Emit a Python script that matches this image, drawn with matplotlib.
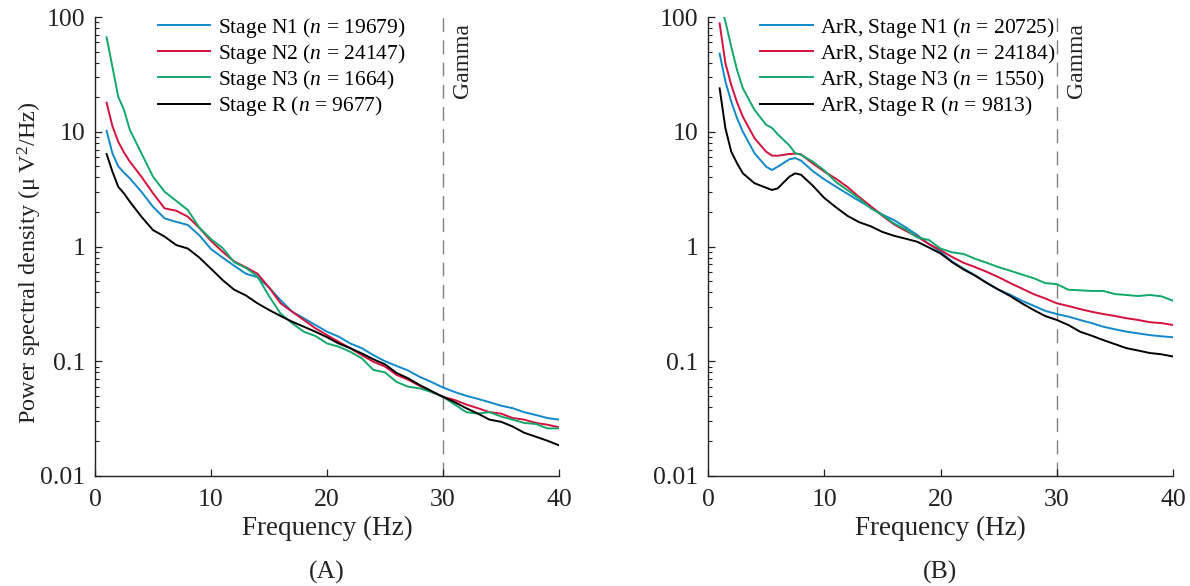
import matplotlib
matplotlib.use("Agg")
import matplotlib.pyplot as plt
from matplotlib.ticker import FixedLocator, NullFormatter
import matplotlib.transforms as mtransforms

plt.rcParams['font.family'] = ['Liberation Serif', 'DejaVu Serif']
plt.rcParams['mathtext.fontset'] = 'custom'
plt.rcParams['mathtext.rm'] = 'Liberation Serif'
plt.rcParams['mathtext.it'] = 'Liberation Serif:italic'

# ---------------- data ----------------
freq_A = [1, 1.5, 2, 2.5, 3, 4, 5, 6, 7, 8, 9, 10, 11, 12, 13, 14, 15, 16, 17, 18, 19, 20,
          21, 22, 23, 24, 25, 26, 27, 28, 29, 30, 31, 32, 33, 34, 35, 36, 37, 38, 39, 40]
n1_A = [10.2, 6.5, 5.0, 4.4, 3.93, 3.0, 2.22, 1.76, 1.64, 1.54, 1.25, 0.95, 0.80, 0.68, 0.58,
        0.54, 0.44, 0.34, 0.27, 0.237, 0.207, 0.181, 0.164, 0.143, 0.130, 0.113, 0.100, 0.091,
        0.083, 0.073, 0.066, 0.059, 0.054, 0.050, 0.047, 0.044, 0.041, 0.039, 0.036, 0.034,
        0.032, 0.031]
n2_A = [17.9, 11.2, 8.2, 6.6, 5.5, 4.06, 2.91, 2.15, 2.05, 1.82, 1.45, 1.12, 0.90, 0.74, 0.66,
        0.58, 0.44, 0.32, 0.27, 0.229, 0.194, 0.169, 0.148, 0.130, 0.113, 0.099, 0.090, 0.076,
        0.069, 0.061, 0.054, 0.049, 0.046, 0.042, 0.039, 0.036, 0.035, 0.032, 0.031, 0.029,
        0.028, 0.0266]
n3_A = [66.5, 36.9, 20.2, 15.5, 10.4, 6.5, 4.06, 3.0, 2.5, 2.08, 1.46, 1.16, 0.97, 0.73, 0.65,
        0.55, 0.37, 0.26, 0.214, 0.181, 0.166, 0.143, 0.134, 0.121, 0.106, 0.084, 0.080, 0.066,
        0.060, 0.058, 0.054, 0.049, 0.042, 0.036, 0.035, 0.036, 0.033, 0.031, 0.029, 0.0284,
        0.026, 0.026]
r_A = [6.4, 4.5, 3.32, 2.9, 2.46, 1.82, 1.39, 1.22, 1.03, 0.96, 0.80, 0.64, 0.51, 0.42, 0.375,
       0.32, 0.28, 0.248, 0.221, 0.20, 0.181, 0.162, 0.143, 0.130, 0.117, 0.104, 0.094, 0.079,
       0.071, 0.062, 0.055, 0.049, 0.044, 0.039, 0.035, 0.031, 0.0297, 0.027, 0.0238, 0.022,
       0.0203, 0.0185]

freq_B = [1, 1.5, 2, 2.5, 3, 4, 5, 5.5, 6, 7, 7.5, 8, 9, 10, 11, 12, 13, 14, 15, 16, 17, 18,
          19, 20, 21, 22, 23, 24, 25, 26, 27, 28, 29, 30, 31, 32, 33, 34, 35, 36, 37, 38, 39, 40]
n1_B = [48, 27.3, 18.3, 13.1, 10.0, 6.5, 4.96, 4.64, 4.96, 5.75, 5.9, 5.6, 4.55, 3.85, 3.32,
        2.88, 2.50, 2.18, 1.9, 1.70, 1.47, 1.26, 1.05, 0.90, 0.74, 0.64, 0.56, 0.48, 0.42,
        0.38, 0.337, 0.305, 0.275, 0.258, 0.245, 0.229, 0.215, 0.20, 0.19, 0.181, 0.175,
        0.169, 0.165, 0.162]
n2_B = [88, 39.5, 25.6, 18.0, 13.5, 8.8, 6.7, 6.2, 6.18, 6.4, 6.45, 6.35, 5.3, 4.5, 3.9, 3.3,
        2.7, 2.25, 1.85, 1.56, 1.37, 1.22, 1.05, 0.93, 0.81, 0.72, 0.66, 0.60, 0.54, 0.48,
        0.43, 0.385, 0.353, 0.32, 0.303, 0.285, 0.27, 0.258, 0.248, 0.237, 0.229, 0.219,
        0.215, 0.207]
n3_B = [140, 91, 55, 34.5, 23.9, 15.5, 11.5, 10.8, 9.5, 7.6, 6.5, 6.3, 5.5, 4.6, 3.65, 3.1,
        2.62, 2.15, 1.88, 1.59, 1.41, 1.20, 1.14, 0.96, 0.89, 0.86, 0.78, 0.72, 0.66, 0.615,
        0.57, 0.53, 0.48, 0.47, 0.42, 0.415, 0.41, 0.41, 0.385, 0.378, 0.37, 0.378, 0.368,
        0.337]
r_B = [23.9, 10.7, 6.7, 5.31, 4.34, 3.56, 3.25, 3.11, 3.21, 4.06, 4.34, 4.22, 3.4, 2.65, 2.2,
       1.85, 1.63, 1.5, 1.34, 1.24, 1.17, 1.10, 0.98, 0.87, 0.73, 0.63, 0.555, 0.48, 0.42,
       0.37, 0.32, 0.28, 0.248, 0.229, 0.207, 0.181, 0.167, 0.153, 0.141, 0.130, 0.124,
       0.118, 0.115, 0.110]

labels_A = ['Stage N1 ($n$ = 19679)', 'Stage N2 ($n$ = 24147)',
            'Stage N3 ($n$ = 1664)', 'Stage R ($n$ = 9677)']
labels_B = ['ArR, Stage N1 ($n$ = 20725)', 'ArR, Stage N2 ($n$ = 24184)',
            'ArR, Stage N3 ($n$ = 1550)', 'ArR, Stage R ($n$ = 9813)']
colors = ['#1088cc', '#d4103c', '#12a86c', '#000000']
xticks = [0, 10, 20, 30, 40]
yticks = [0.01, 0.1, 1, 10, 100]
ytick_labels = ['0.01', '0.1', '1', '10', '100']
gamma_f = 30

# ---------------- figure ----------------
W, H = 1190, 586
fig = plt.figure(figsize=(W / 100, H / 100), dpi=100)

def px_axes(l, r, t, b):
    return fig.add_axes([l / W, (H - b) / H, (r - l) / W, (b - t) / H])

axA = px_axes(95, 559, 17, 476)
axB = px_axes(708, 1173, 17, 476)

minor = [m * 10.0 ** e for e in range(-2, 2) for m in range(2, 10)]
TXT = '#222222'

def style(ax, freq, series, labels, leg_x, panel):
    for y, c, lab in zip(series, colors, labels):
        ax.plot(freq, y, color=c, lw=1.4, label=lab, solid_joinstyle='round')
    ax.axvline(gamma_f, color='#808080', lw=1.0, ls=(0, (10, 6)), zorder=0)
    ax.set_yscale('log')
    ax.set_xlim(0, 40)
    ax.set_ylim(0.01, 100)
    ax.yaxis.set_major_locator(FixedLocator(yticks))
    ax.set_yticklabels(ytick_labels)
    ax.yaxis.set_minor_locator(FixedLocator(minor))
    ax.yaxis.set_minor_formatter(NullFormatter())
    ax.set_xticks(xticks)
    ax.tick_params(axis='both', which='major', direction='in', length=5, width=0.9,
                   labelsize=18.5, colors=TXT)
    ax.tick_params(axis='x', which='major', pad=9)
    ax.tick_params(axis='y', which='major', pad=7)
    ax.tick_params(axis='y', which='minor', direction='in', length=3, width=0.8,
                   colors=TXT)
    for s in ['top', 'right']:
        ax.spines[s].set_visible(False)
    for s in ['left', 'bottom']:
        ax.spines[s].set_linewidth(1.0)
        ax.spines[s].set_color(TXT)
    ax.set_xlabel('Frequency (Hz)', fontsize=19.5, labelpad=4, color=TXT)
    trans = mtransforms.blended_transform_factory(ax.transData, ax.transAxes)
    ax.text(31.7, 0.987, 'Gamma', rotation=90, va='top', ha='center', fontsize=17,
            transform=trans, color=TXT)
    ax.legend(loc='upper left', bbox_to_anchor=(leg_x, 1.003), frameon=False,
              fontsize=15.5, handlelength=2.45, handletextpad=0.35, labelspacing=0.1,
              borderaxespad=0, borderpad=0)
    ax.text(0.5, -0.21, panel, transform=ax.transAxes, ha='center', va='center',
            fontsize=18.5, color=TXT)

style(axA, freq_A, [n1_A, n2_A, n3_A, r_A], labels_A, 0.135, '(A)')
style(axB, freq_B, [n1_B, n2_B, n3_B, r_B], labels_B, 0.112, '(B)')
axA.set_ylabel('Power spectral density (μ\u2009V$^2$/Hz)', fontsize=17.5, color=TXT)
axA.yaxis.set_label_coords(-0.11, 0.465)

fig.savefig('out.png', dpi=100)
